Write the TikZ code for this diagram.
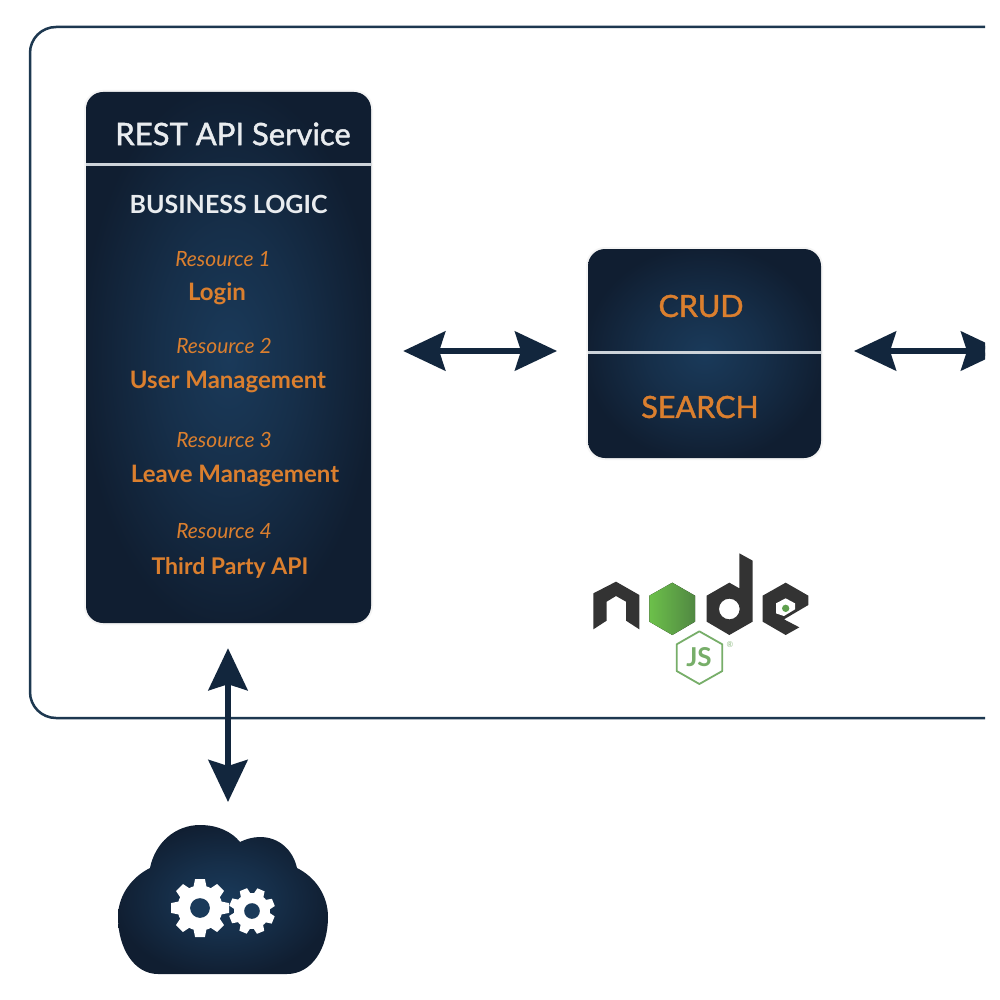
\documentclass[tikz,border=0pt]{standalone}
\usepackage{fontspec}
\setmainfont{Lato}
\newfontfamily\medfont[FakeBold=1.4]{Lato}
\usetikzlibrary{arrows.meta}
\definecolor{navy}{HTML}{12263D}
\definecolor{navymid}{HTML}{1A3A5A}
\definecolor{navyedge}{HTML}{101E31}
\definecolor{framecol}{HTML}{1D3850}
\definecolor{orangetxt}{HTML}{DB7F2E}
\definecolor{whitetxt}{HTML}{E9ECEF}
\definecolor{rulecol}{HTML}{CDD3D9}
\definecolor{nodegrey}{HTML}{333333}
\definecolor{nodegreen}{HTML}{5FA04E}
\definecolor{nodelight}{HTML}{6CC04A}
\pgfdeclareradialshading{navyglow}{\pgfpointorigin}{color(0bp)=(navymid); color(12bp)=(navymid!60!navyedge); color(26bp)=(navyedge); color(100bp)=(navyedge)}
\newcommand{\fsz}[1]{\fontsize{#1}{#1}\selectfont}
\tikzset{
  x=1pt,y=-1pt,
  panel/.style={preaction={draw=black!4,line width=4pt},shading=navyglow,rounded corners=17pt,inner sep=0pt},
  heading/.style={text=whitetxt,inner sep=0pt,anchor=center},
  restext/.style={text=orangetxt,inner sep=0pt,anchor=center,font=\itshape\fsz{21}},
  itemtext/.style={text=orangetxt,inner sep=0pt,anchor=center,font=\bfseries\fsz{24}},
  crudtext/.style={text=orangetxt,inner sep=0pt,anchor=center,font=\medfont\fsz{30.5}},
  biarrow/.style={draw=navy,line width=6pt,{Stealth[length=42pt,width=39pt,inset=6pt]}-{Stealth[length=42pt,width=39pt,inset=6pt]}},
  divider/.style={draw=rulecol,line width=3pt},
  frameline/.style={draw=framecol,line width=2.5pt,rounded corners=26pt},
  gearfill/.style={fill=white,draw=none},
  logoglyph/.style={fill=nodegrey,draw=none},
  gearwheel/.pic={
    \fill[gearfill] (0,0) circle[radius=0.78];
    \foreach \a in {0,45,...,315}{
      \fill[gearfill,rotate=\a] (-0.23,-0.7) -- (-0.17,-1) -- (0.17,-1) -- (0.23,-0.7) -- cycle;
    }
    \fill[navymid] (0,0) circle[radius=0.34];
  }
}
\begin{document}
\begin{tikzpicture}
\useasboundingbox[fill=white] (0,0) rectangle (1000,1000);

\begin{scope}
\clip (0,0) rectangle (985,1000);
\draw[frameline] (1010,27) -- (30,27) -- (30,718) -- (1010,718);
\node[panel,minimum width=285pt,minimum height=531pt] (rest) at (228.5,357.5) {};
\node[panel,minimum width=233pt,minimum height=209pt] (crud) at (704.5,353.5) {};
\coordinate (crudW) at (588,351);
\coordinate (crudE) at (821,351);
\coordinate (freeE) at (1003,351);
\draw[biarrow,shorten <=32pt,shorten >=31pt] (rest.east |- crudW) -- (crudW);
\draw[biarrow,shorten <=33pt] (crudE) -- (freeE);
\end{scope}

\coordinate (restrule) at (0,165);
\coordinate (crudrule) at (0,352);
\draw[divider] (rest.west |- restrule) -- (rest.east |- restrule);
\draw[divider] (crud.west |- crudrule) -- (crud.east |- crudrule);

\node[heading,font=\medfont\fsz{31}] (title) at (233,134) {REST API Service};
\node[heading,font=\bfseries\fsz{25}] (logic) at (228.5,204) {BUSINESS LOGIC};
\node[restext] (r1) at (223,259) {Resource 1};
\node[itemtext] (i1) at (217,294) {Login};
\node[restext] (r2) at (224,346) {Resource 2};
\node[itemtext] (i2) at (228,382) {User Management};
\node[restext] (r3) at (224,440) {Resource 3};
\node[itemtext] (i3) at (235,476) {Leave Management};
\node[restext] (r4) at (224,531) {Resource 4};
\node[itemtext,font=\bfseries\fsz{23}] (i4) at (230,568) {Third Party API};
\node[crudtext] (crudlabel) at (701,306) {CRUD};
\node[crudtext] (searchlabel) at (700,407) {SEARCH};

% cloud
\path[shading=navyglow] (158,974)
  .. controls (134,974) and (118,948) .. (118,917)
  .. controls (118,895) and (132,877) .. (150,868)
  .. controls (155,843) and (175,825) .. (200,825)
  .. controls (218,825) and (232,832) .. (240,842)
  .. controls (246,839) and (253,837) .. (260,837)
  .. controls (279,837) and (293,850) .. (297,868)
  .. controls (315,877) and (328,895) .. (328,917)
  .. controls (328,948) and (312,974) .. (287,974) -- cycle;
\coordinate (cloudtop) at (228,825);
\draw[biarrow,shorten <=25pt,shorten >=23pt] (rest.south -| cloudtop) -- (cloudtop);
\coordinate (gearA) at (200,908);
\coordinate (gearB) at (252,911);
\pic[x=29pt,y=29pt] at (gearA) {gearwheel};
\pic[x=23pt,y=23pt,rotate=22] at (gearB) {gearwheel};

% node.js logo
\begin{scope}[shift={(560,530)},scale=1/3]
\fill[logoglyph] (100,190) -- (168,155) -- (238,195) -- (238,298) -- (198,272) -- (198,215) -- (168,198) -- (140,215) -- (140,272) -- (100,298) -- cycle;
\fill[left color=nodelight,right color=nodegreen!85!black] (337,158) -- (405,197) -- (405,275) -- (337,315) -- (268,275) -- (268,197) -- cycle;
\fill[logoglyph,even odd rule] (440,197) -- (508,158) -- (538,175) -- (538,70) -- (578,92) -- (578,275) -- (508,315) -- (440,275) -- cycle (508,237) circle[radius=31];
\fill[logoglyph] (677,158) -- (745,197) -- (745,225) -- (672,268) -- (718,292) -- (677,315) -- (608,275) -- (608,197) -- cycle;
\fill[white] (677,205) -- (705,220) -- (705,238) -- (672,258) -- (648,250) -- (648,220) -- cycle;
\fill[nodegreen] (677,235) circle[radius=11];
\draw[nodegreen!85,line width=1.8pt,line join=round] (418,304) -- (487,343) -- (487,423) -- (418,462) -- (350,423) -- (350,343) -- cycle;
\node[text=nodegreen!85,inner sep=0pt,font=\bfseries\fsz{26}] (js) at (417,382) {JS};
\node[text=nodegreen!70,inner sep=0pt,font=\fsz{8}] (reg) at (510,345) {®};
\end{scope}
\end{tikzpicture}
\end{document}
